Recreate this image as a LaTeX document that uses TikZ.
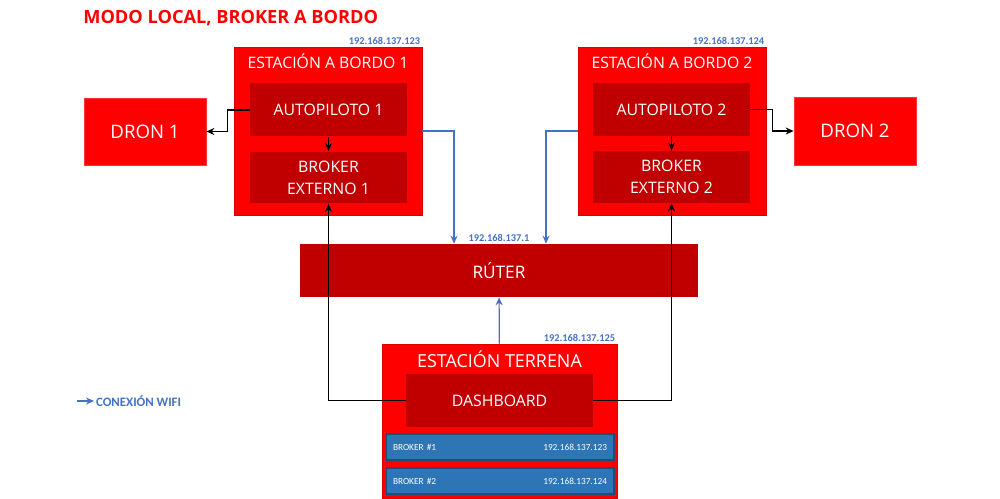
\documentclass[tikz,border=0pt]{standalone}
\usepackage{fontspec}
\setmainfont{Open Sans}
\newfontfamily\smallfont{Carlito}
\usepackage{tikz}
\usetikzlibrary{arrows.meta, positioning, calc}

\definecolor{boxred}{HTML}{FF0000}
\definecolor{darkred}{HTML}{C00000}
\definecolor{wifiblue}{HTML}{4472C4}
\definecolor{barblue}{HTML}{2E75B6}
\definecolor{bardark}{HTML}{1F4E79}

\begin{document}
\begin{tikzpicture}[
    x=0.02cm, y=-0.02cm,
    station/.style={rectangle, draw=red!85!black, line width=0.4pt, fill=boxred, minimum width=3.76cm, minimum height=3.36cm},
    stationtitle/.style={anchor=north, text=white, font=\fontsize{9}{10}\selectfont, inner sep=0pt, yshift=-0.13cm},
    inner/.style={rectangle, fill=darkred, text=white, minimum width=3.14cm, minimum height=1.06cm, align=center, font=\fontsize{9}{12.5}\selectfont, inner sep=0pt},
    drone/.style={rectangle, draw=red!80!white, fill=boxred, text=white, minimum width=2.44cm, minimum height=1.34cm, font=\fontsize{10.6}{12}\selectfont},
    bar/.style={rectangle, draw=bardark, line width=0.6pt, fill=barblue, text=white, text width=4.28cm, inner xsep=0.14cm, minimum height=0.52cm, font=\smallfont\fontsize{5.3}{6}\selectfont},
    iplabel/.style={text=wifiblue, font=\smallfont\bfseries\fontsize{5.9}{6}\selectfont, inner sep=1pt},
    arrow/.style={-{Stealth[length=1.6mm, width=1.4mm]}, line width=0.9pt},
    wifi/.style={-{Stealth[length=1.6mm, width=1.4mm]}, draw=wifiblue, line width=0.7pt}
]
\useasboundingbox (0,0) rectangle (1000,499);

% Title
\node[anchor=west, text=boxred, font=\bfseries\fontsize{10.35}{12}\selectfont, inner sep=0pt] (title) at (83,18) {MODO LOCAL, BROKER A BORDO};

% Onboard station 1
\node[station, label={[stationtitle]north:ESTACIÓN A BORDO 1}, label={[iplabel, anchor=south east]north east:192.168.137.123}] (est1) at (328,131) {};
\node[inner] (auto1) at (328.5,110) {AUTOPILOTO 1};
\node[inner, minimum height=1.04cm] (brk1) at (328.5,177.5) {BROKER\\EXTERNO 1};
\node[drone] (dron1) at (145,131.5) {DRON 1};

% Onboard station 2
\node[station, label={[stationtitle]north:ESTACIÓN A BORDO 2}, label={[iplabel, anchor=south east]north east:192.168.137.124}] (est2) at (672,131) {};
\node[inner] (auto2) at (671.5,109.5) {AUTOPILOTO 2};
\node[inner, minimum height=1.04cm] (brk2) at (671.5,177) {BROKER\\EXTERNO 2};
\node[drone, minimum height=1.36cm] (dron2) at (855,131) {DRON 2};

% Router
\node[inner, minimum width=7.96cm, font=\fontsize{9.8}{11}\selectfont, label={[iplabel, anchor=south]north:192.168.137.1}] (router) at (499,270.5) {RÚTER};

% Ground station
\node[station, minimum width=4.7cm, minimum height=3.08cm, label={[stationtitle, yshift=0.0cm, font=\fontsize{10.2}{11}\selectfont]north:ESTACIÓN TERRENA}, label={[iplabel, anchor=south east]north east:192.168.137.125}] (terr) at (499.5,421) {};
\node[inner, minimum width=3.74cm] (dash) at (499.5,400.5) {DASHBOARD};
\node[bar] (bk1) at (500,447) {BROKER \#1\hfill 192.168.137.123};
\node[bar] (bk2) at (500,481) {BROKER \#2\hfill 192.168.137.124};

% Legend
\node[iplabel, anchor=west, font=\smallfont\bfseries\fontsize{7.3}{8}\selectfont] (legend) at (94,401) {CONEXIÓN WIFI};
\coordinate (legstart) at (77,401);

% Arrows
\draw[arrow] (auto1.west) -- ++(-22,0) |- (dron1);
\draw[arrow] (auto1) -- (brk1);
\draw[arrow] (auto2.east) -- ++(22,0) |- (dron2);
\draw[arrow] (auto2) -- (brk2);
\draw[arrow] (dash.west) -| (brk1.south);
\draw[arrow] (dash.east) -| (brk2.south);

% Wifi links
\draw[wifi] (est1.east) -| ([xshift=-0.9cm]router.north);
\draw[wifi] (est2.west) -| ([xshift=0.94cm]router.north);
\draw[wifi] (terr) -- (router);
\draw[wifi] (legstart) -- (legend.west);

\end{tikzpicture}
\end{document}
